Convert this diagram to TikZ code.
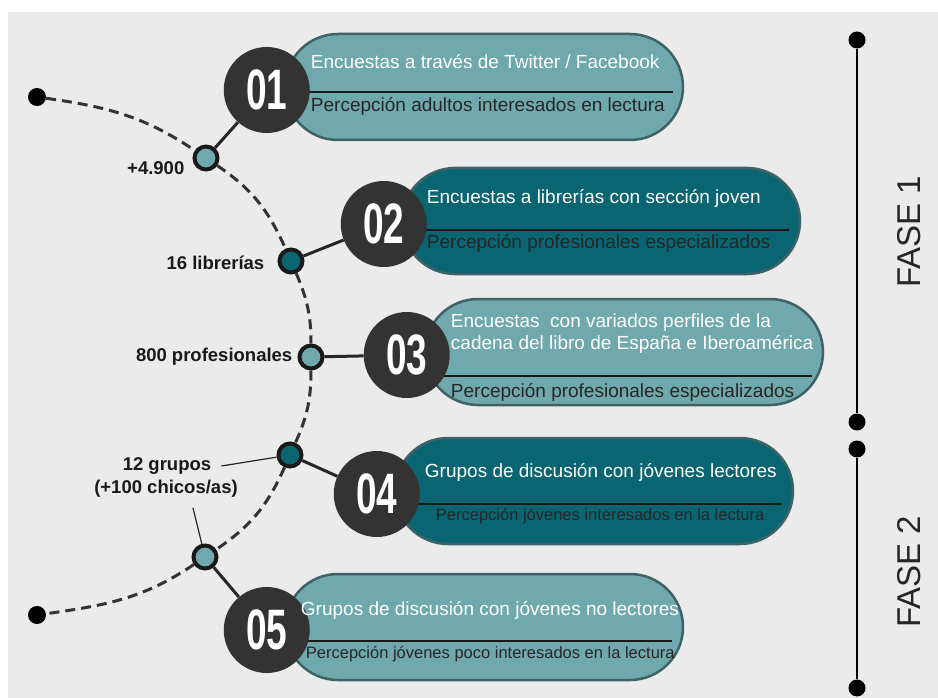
\documentclass[tikz,border=0pt]{standalone}
\usepackage{fontspec}
\setmainfont{Liberation Sans}
\usepackage{graphicx}
\usetikzlibrary{shapes.misc, positioning}
\definecolor{tealA}{HTML}{70A9AD}
\definecolor{tealB}{HTML}{0A6572}
\definecolor{numgray}{HTML}{333333}
\definecolor{rim}{HTML}{3E6266}
\definecolor{paper}{HTML}{EBEBEB}
\tikzstyle{pillA} = [rounded rectangle, minimum width=398pt, minimum height=106pt, inner sep=0pt, draw=rim, line width=2.5pt, fill=tealA]
\tikzstyle{pillB} = [pillA, fill=tealB]
\tikzstyle{num} = [circle, minimum size=86pt, inner sep=0pt, fill=numgray, text=white, font=\fontsize{57}{57}\selectfont\bfseries]
\tikzstyle{dotA} = [circle, minimum size=23pt, inner sep=0pt, draw=black!90, line width=4pt, fill=tealA]
\tikzstyle{dotB} = [dotA, fill=tealB]
\tikzstyle{enddot} = [circle, minimum size=18pt, inner sep=0pt, fill=black]
\tikzstyle{headtext} = [anchor=west, inner sep=0pt, text=white, font=\fontsize{19}{22}\selectfont, align=left]
\tikzstyle{subtext} = [anchor=west, inner sep=0pt, text=black!85, font=\fontsize{19}{22}\selectfont]
\tikzstyle{subsmall} = [subtext, font=\fontsize{16.5}{20}\selectfont]
\tikzstyle{stat} = [inner sep=0pt, text=black!90, font=\fontsize{18.5}{21}\selectfont\bfseries]
\tikzstyle{trail} = [dash pattern=on 10pt off 6pt, line width=3pt, draw=numgray]
\tikzstyle{link} = [line width=3pt, draw=black!85]
\tikzstyle{leader} = [line width=1.2pt, draw=black!85]
\tikzstyle{divider} = [line width=1.2pt, draw=black!90]
\tikzstyle{fase} = [rotate=90, inner sep=0pt, text=black!85, font=\fontsize{33}{33}\selectfont]
\newcommand{\numtext}[1]{\scalebox{0.65}[1]{#1}}

\begin{document}
\begin{tikzpicture}[x=1pt, y=1pt, node distance=0pt]
    \useasboundingbox (0,0) rectangle (938,-698);
    \fill [white] (0,0) rectangle (938,-698);
    \fill [paper] (8,-12) rectangle (938,-698);

    \node (pill1) [pillA] at (484,-87) {};
    \node (pill2) [pillB] at (601,-221) {};
    \node (pill3) [pillA] at (624,-352) {};
    \node (pill4) [pillB] at (594,-491) {};
    \node (pill5) [pillA] at (484,-627) {};

    \draw [divider] ([yshift=-5pt]pill1.west) -- ([xshift=-11pt, yshift=-5pt]pill1.east);
    \draw [divider] ([yshift=-9pt]pill2.west) -- ([xshift=-12pt, yshift=-9pt]pill2.east);
    \draw [divider] ([yshift=-24pt]pill3.west) -- ([xshift=-12pt, yshift=-24pt]pill3.east);
    \draw [divider] ([yshift=-13pt]pill4.west) -- ([xshift=-12pt, yshift=-13pt]pill4.east);
    \draw [divider] ([yshift=-14pt]pill5.west) -- ([xshift=-12pt, yshift=-14pt]pill5.east);

    \node (num1) [num] at ([xshift=-17pt, yshift=-3pt]pill1.west) {\numtext{01}};
    \node (num2) [num] at ([xshift=-17pt, yshift=-3pt]pill2.west) {\numtext{02}};
    \node (num3) [num] at ([xshift=-17pt, yshift=-3pt]pill3.west) {\numtext{03}};
    \node (num4) [num] at ([xshift=-17pt, yshift=-3pt]pill4.west) {\numtext{04}};
    \node (num5) [num] at ([xshift=-17pt, yshift=-3pt]pill5.west) {\numtext{05}};

    \node (t1) [headtext] at ([xshift=44pt, yshift=28pt]num1.center) {Encuestas a través de Twitter / Facebook};
    \node (s1) [subtext] at ([xshift=44pt, yshift=-16pt]num1.center) {Percepción adultos interesados en lectura};
    \node (t2) [headtext] at ([xshift=43pt, yshift=26pt]num2.center) {Encuestas a librerías con sección joven};
    \node (s2) [subtext] at ([xshift=43pt, yshift=-19pt]num2.center) {Percepción profesionales especializados};
    \node (t3) [headtext] at ([xshift=44pt, yshift=21pt]num3.center) {Encuestas \ con variados perfiles de la\\cadena del libro de España e Iberoamérica};
    \node (s3) [subtext] at ([xshift=44pt, yshift=-37pt]num3.center) {Percepción profesionales especializados};
    \node (t4) [headtext] at ([xshift=48pt, yshift=22pt]num4.center) {Grupos de discusión con jóvenes lectores};
    \node (s4) [subsmall] at ([xshift=59pt, yshift=-22pt]num4.center) {Percepción jóvenes interesados en la lectura};
    \node (t5) [headtext] at ([xshift=34pt, yshift=20pt]num5.center) {Grupos de discusión con jóvenes no lectores};
    \node (s5) [subsmall] at ([xshift=39pt, yshift=-24pt]num5.center) {Percepción jóvenes poco interesados en la lectura};

    \node (end1) [enddot] at (37,-97) {};
    \node (end2) [enddot] at (37,-615) {};
    \node (dot1) [dotA] at (206,-158) {};
    \node (dot2) [dotB] at (291,-261) {};
    \node (dot3) [dotA] at (311,-357) {};
    \node (dot4) [dotB] at (290,-455) {};
    \node (dot5) [dotA] at (205,-557) {};

    \draw [trail] (end1) to[out=-8, in=146] (dot1) to[out=-34, in=114] (dot2) to[out=-67, in=90] (dot3)
        to[out=-90, in=66] (dot4) to[out=-114, in=34] (dot5) to[out=-146, in=8] (end2);

    \draw [link] (dot1) -- (num1);
    \draw [link] (dot2) -- (num2);
    \draw [link] (dot3) -- (num3);
    \draw [link] (dot4) -- (num4);
    \draw [link] (dot5) -- (num5);

    \node (lab1) [stat, left=8pt of dot1, yshift=-10pt] {+4.900};
    \node (lab2) [stat, left=13pt of dot2, yshift=-2pt] {16 librerías};
    \node (lab3) [stat, left=5pt of dot3] {800 profesionales};
    \node (lab4a) [stat] at (167,-466) {12 grupos};
    \node (lab4b) [stat] at (166,-489) {(+100 chicos/as)};
    \draw [leader] ([xshift=10pt]lab4a.east) -- (dot4);
    \draw [leader] ([xshift=27pt, yshift=-10pt]lab4b.south) -- (dot5);

    \node (ph1a) [enddot, minimum size=17pt] at (857,-40) {};
    \node (ph1b) [enddot, minimum size=17pt] at (857,-422) {};
    \node (ph2a) [enddot, minimum size=17pt] at (857,-449) {};
    \node (ph2b) [enddot, minimum size=17pt] at (857,-688) {};
    \draw [line width=1.5pt] (ph1a) -- (ph1b);
    \draw [line width=1.5pt] (ph2a) -- (ph2b);
    \node (fase1) [fase] at (909,-232) {FASE 1};
    \node (fase2) [fase] at (909,-572) {FASE 2};

\end{tikzpicture}
\end{document}
